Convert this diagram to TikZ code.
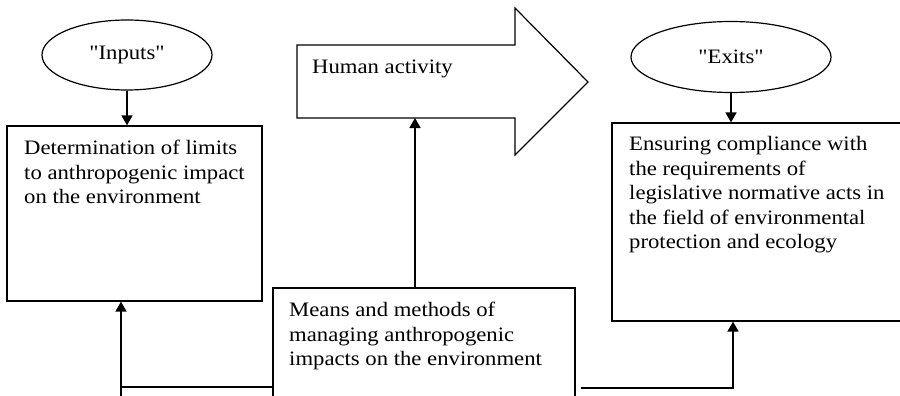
\documentclass[tikz,border=0pt]{standalone}
\usepackage{fontspec}
\setmainfont{Liberation Serif}[FakeStretch=1.107,Ligatures=TeXOff]
\usetikzlibrary{shapes.geometric,arrows.meta,calc}
\begin{document}
\begin{tikzpicture}[x=1pt,y=-1pt,
  every node/.style={font=\fontsize{20.5}{24.6}\selectfont},
  boxn/.style={draw,line width=1.2pt,rectangle,inner sep=0pt},
  ell/.style={draw,line width=1.2pt,ellipse,inner sep=0pt},
  txt/.style={inner sep=0pt,align=left,anchor=north west},
  arr/.style={line width=1.6pt,-{Triangle[length=10pt,width=11pt]}},
  ln/.style={line width=1.4pt}]
\useasboundingbox (0,0) rectangle (900,396);
\clip (0,0) rectangle (900,396);
% shapes
\node[ell,minimum width=170pt,minimum height=70pt] (inputs) at (127,55) {"Inputs"};
\node[ell,minimum width=200pt,minimum height=71pt] (exits) at (731,57) {"Exits"};
\node[boxn,minimum width=255pt,minimum height=175pt] (left) at (134.5,213.5) {};
\node[boxn,minimum width=302pt,minimum height=132pt] (mid) at (424,354) {};
\node[boxn,minimum width=308pt,minimum height=198pt] (right) at (766,222) {};
\draw[line width=1.2pt] (297,45) -- (515,45) -- (515,8) -- (588,82) -- (515,155) -- (515,118) -- (297,118) -- cycle;
\coordinate (hab) at (415,118);
% texts
\node[txt] (lefttxt) at (24,140) {Determination of limits\\to anthropogenic impact\\on the environment};
\node[txt] (midtxt) at (289,302) {Means and methods of\\managing anthropogenic\\impacts on the environment};
\node[txt] (righttxt) at (629,136) {Ensuring compliance with\\the requirements of\\legislative normative acts in\\the field of environmental\\protection and ecology};
\node[txt] (hatxt) at (312,60) {Human activity};
% connectors
\coordinate (y387) at (0,387);
\coordinate (y388) at (0,388);
\coordinate (lb) at (121,400);
\draw[arr] (inputs.south) -- (inputs.south |- left.north);
\draw[arr] (exits.south) -- (exits.south |- right.north);
\draw[arr] (hab |- mid.north) -- (hab);
\draw[arr] (lb) -- (lb |- left.south);
\draw[ln] (lb |- y387) -- (mid.west |- y387);
\draw[arr] ($(mid.east |- y388)+(5,0)$) -| ([xshift=-33pt]right.south);
\end{tikzpicture}
\end{document}
